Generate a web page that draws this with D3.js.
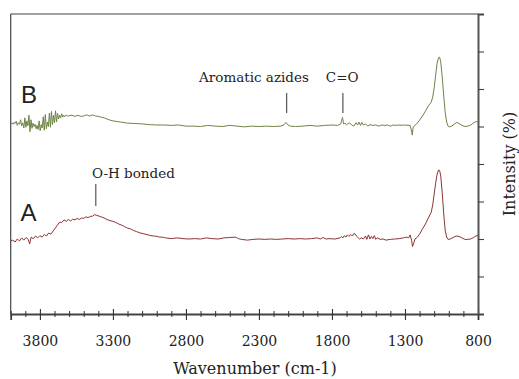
<!DOCTYPE html>
<html>
<head>
<meta charset="utf-8">
<script src="https://cdn.jsdelivr.net/npm/d3@7"></script>
<style>
  body { margin: 0; background: #fff; }
  svg text { font-family: "DejaVu Serif", serif; fill: #222; }
</style>
</head>
<body>
<figure id="spectra" style="margin:0"></figure>
<script>
// spectrum B (upper trace), wavenumber in cm-1 and intensity
const waveB = [4000,3992,3985,3978,3970,3962,3955,3948,3940,3932,3925,3918,3910,3903,3896,3889,3882,3875,3868,3861,
  3854,3847,3840,3833,3826,3819,3812,3805,3798,3791,3784,3777,3770,3763,3756,3749,3742,3735,3728,3721,3714,3707,
  3700,3693,3686,3679,3672,3665,3658,3651,3644,3637,3630,3620,3610,3600,
  3580,3560,3540,3520,3500,3480,3460,3440,3420,3400,3380,3360,3340,3320,3300,3250,3200,3150,3100,3050,
  3000,2950,2900,2850,2800,2750,2700,2650,2600,2550,2500,2450,2400,2350,2300,2250,2200,2150,2130,2115,2100,2085,
  2050,2000,1950,1900,1850,1800,1760,1740,1728,1720,1710,1700,1680,1665,1650,1635,1625,1615,1605,1595,1585,1570,
  1555,1540,1520,1500,1480,1460,1440,1420,1400,1380,1360,1340,1320,1310,1265,1255,1250,1245,1238,1220,1200,1180,
  1160,1140,1120,1110,1100,1090,1080,1070,1063,1055,1045,1035,1025,1015,1005,995,980,960,945,930,910,890,870,850,830,815,800];
const intB = [50.7,51.0,50.6,51.1,50.8,51.4,50.3,51.0,50.6,51.8,50.2,51.0,49.6,52.3,49.8,51.5,50.2,53.0,48.6,51.8,
  49.5,50.9,50.0,50.6,49.4,50.3,49.2,51.5,48.9,50.5,49.6,52.6,49.0,53.2,49.4,51.2,50.0,53.6,49.8,54.0,50.5,53.0,
  51.0,54.2,51.2,53.5,52.0,53.0,52.3,53.4,52.5,53.0,52.6,53.1,52.7,52.9,
  53.0,52.7,53.0,52.7,52.8,53.1,52.8,53.1,52.8,52.7,52.5,52.3,52.0,51.7,51.5,51.2,50.9,50.8,50.7,50.5,
  50.4,50.4,50.3,50.4,50.1,50.1,50.0,50.3,50.1,50.0,50.3,50.1,49.9,50.1,50.0,50.1,50.0,50.1,50.4,51.1,50.4,50.1,
  50.0,50.1,50.3,50.1,50.3,50.4,50.3,50.7,52.4,50.7,50.8,50.5,51.0,50.4,50.1,51.0,50.4,51.2,50.3,51.1,50.4,50.7,
  50.1,50.5,50.3,50.4,50.1,50.4,50.3,50.4,50.1,50.4,50.3,50.4,50.3,50.4,50.3,48.8,47.7,49.6,50.1,50.7,51.7,52.8,
  54.1,55.5,56.5,57.9,60.3,63.7,66.9,68.4,68.5,67.2,63.2,58.4,53.9,51.2,50.1,49.9,50.1,50.7,51.1,50.8,50.3,50.0,50.1,50.4,51.0,51.3,51.2];

// spectrum A (lower trace)
const waveA = [4000,3985,3970,3955,3940,3925,3910,3895,3880,3870,3860,3845,3830,3815,3800,3785,3770,3755,3740,3725,
  3710,3695,3680,3665,3650,3635,3620,3605,3590,3575,3560,3545,3530,3515,3500,3485,3470,3455,3440,3425,3410,3395,
  3380,3360,3340,3320,3300,3280,3260,3240,3220,3200,3180,3160,3140,3120,3100,3080,3060,3040,3020,3000,2980,2960,
  2940,2900,2860,2820,2780,2740,2700,2660,2620,2580,2540,2500,2460,2440,2420,2380,2340,2300,2260,2220,2180,2140,
  2100,2060,2020,1980,1940,1900,1880,1860,1840,1820,1780,1745,1735,1725,1715,1705,1695,1685,1670,1660,1650,1640,
  1630,1620,1610,1600,1585,1570,1562,1550,1540,1530,1520,1510,1500,1490,1470,1450,1430,1400,1370,1340,1310,1290,
  1275,1265,1255,1248,1240,1232,1215,1200,1180,1160,1140,1120,1110,1100,1090,1080,1070,1063,1055,1045,1035,1025,
  1015,1005,990,970,950,930,910,890,870,850,830,815,800];
const intA = [19.5,19.7,19.2,20.0,19.5,20.3,19.7,20.4,19.9,18.7,20.5,20.1,20.8,20.3,20.9,20.5,21.2,20.8,21.6,21.3,
  22.1,22.9,23.7,24.5,24.4,25.1,24.7,25.2,24.8,25.3,25.1,25.5,25.2,25.6,25.5,25.9,25.7,26.0,26.1,26.5,26.3,26.1,
  25.9,25.6,25.2,24.9,24.7,24.4,24.0,23.7,23.3,22.9,22.7,22.3,22.0,21.7,21.5,21.3,21.1,20.9,20.8,20.7,20.5,20.5,
  20.3,20.1,20.3,20.1,20.0,20.1,20.0,20.3,20.1,20.0,20.3,20.4,20.5,20.1,19.9,19.7,19.9,20.0,19.9,20.0,19.9,20.0,
  20.1,20.0,20.1,20.0,20.1,20.3,20.0,20.4,20.0,20.1,20.0,20.3,20.7,20.3,20.9,20.5,21.1,20.7,21.2,20.8,21.5,21.3,
  20.7,20.3,20.0,20.3,20.0,20.8,19.9,21.1,20.0,20.7,20.1,20.9,19.9,20.3,19.9,20.0,19.7,19.9,20.0,20.1,20.3,20.5,
  20.3,21.1,19.7,18.0,18.9,20.0,20.5,21.3,22.7,24.0,25.6,27.2,29.1,32.0,34.9,37.3,38.4,38.3,36.8,32.3,26.9,22.4,
  20.5,19.9,20.0,20.4,20.8,20.7,20.3,19.9,19.9,20.0,20.4,20.8,20.9];

const majorTicks = [3800, 3300, 2800, 2300, 1800, 1300, 800];
const minorTicks = d3.range(4000, 799, -100).filter(d => !majorTicks.includes(d));
const yTicks = d3.range(0, 81, 10);

const annotations = [
  { label: "Aromatic azides", wave: 2110, textWave: 2334, textY: 81.7, y1: 93, y2: 113 },
  { label: "C=O", wave: 1725, textWave: 1730, textY: 81.7, y1: 93, y2: 113 },
  { label: "O-H bonded", wave: 3417, textWave: 3160, textY: 178, y1: 184, y2: 206 }
];

const W = 519, H = 379;
const m = { left: 10.7, right: 478, top: 14, bottom: 314 };
const serif = "'DejaVu Serif', serif";

const svg = d3.select("#spectra").append("svg")
  .attr("width", W).attr("height", H);

const x = d3.scaleLinear().domain([4000, 800]).range([m.left, m.right]);
const y = d3.scaleLinear().domain([0, 80]).range([m.bottom, m.top]);

// frame: thin top/left, heavier right/bottom
svg.append("line").attr("x1", m.left).attr("x2", m.right).attr("y1", m.top).attr("y2", m.top)
  .attr("stroke", "#444").attr("stroke-width", 1.2);
svg.append("line").attr("x1", m.left).attr("x2", m.left).attr("y1", m.top).attr("y2", m.bottom)
  .attr("stroke", "#444").attr("stroke-width", 1.2);

// bottom axis, major + minor ticks crossing the line
const gx = svg.append("g").attr("transform", `translate(0,${m.bottom})`)
  .call(d3.axisBottom(x).tickValues(majorTicks).tickSize(6).tickFormat(d3.format("d")));
gx.select(".domain").attr("stroke", "#444").attr("stroke-width", 1.8);
gx.selectAll(".tick line").attr("y1", -5).attr("stroke", "#333").attr("stroke-width", 1.1);
gx.selectAll(".tick text").attr("y", 32).attr("dy", null)
  .style("font-size", "14px").style("font-family", serif).attr("fill", "#222");

const gxm = svg.append("g").attr("transform", `translate(0,${m.bottom})`)
  .call(d3.axisBottom(x).tickValues(minorTicks).tickSize(3).tickFormat(""));
gxm.select(".domain").remove();
gxm.selectAll(".tick line").attr("y1", -3).attr("stroke", "#333").attr("stroke-width", 1);

// right axis, no labels
const gy = svg.append("g").attr("transform", `translate(${m.right},0)`)
  .call(d3.axisRight(y).tickValues(yTicks).tickSize(6).tickFormat(""));
gy.select(".domain").attr("stroke", "#555").attr("stroke-width", 2);
gy.selectAll(".tick line").attr("stroke", "#444").attr("stroke-width", 1.1);

const line = (waves, vals) => d3.line()
  .x((d, i) => x(waves[i]))
  .y(d => y(d))(vals);

svg.append("path").attr("d", line(waveB, intB))
  .attr("fill", "none").attr("stroke", "#6e8445").attr("stroke-width", 1)
  .attr("stroke-linejoin", "round");
svg.append("path").attr("d", line(waveA, intA))
  .attr("fill", "none").attr("stroke", "#8b3535").attr("stroke-width", 1)
  .attr("stroke-linejoin", "round");

// annotations
annotations.forEach(a => {
  svg.append("line").attr("x1", x(a.wave)).attr("x2", x(a.wave))
    .attr("y1", a.y1).attr("y2", a.y2).attr("stroke", "#333").attr("stroke-width", 1);
  svg.append("text").attr("x", x(a.textWave)).attr("y", a.textY)
    .attr("text-anchor", "middle").style("font-size", "13.5px").style("font-family", serif).text(a.label);
});

// series labels
svg.append("text").attr("x", 21).attr("y", 103)
  .style("font-family", "'Liberation Sans', Arial, sans-serif").style("font-size", "24px")
  .attr("fill", "#000").text("B");
svg.append("text").attr("x", 20.5).attr("y", 220.5)
  .style("font-family", "'Liberation Sans', Arial, sans-serif").style("font-size", "24px")
  .attr("fill", "#000").text("A");

// axis titles
svg.append("text").attr("x", 255).attr("y", 374)
  .attr("text-anchor", "middle").style("font-size", "16px").style("font-family", serif)
  .text("Wavenumber (cm-1)");
svg.append("text").attr("transform", `translate(515,${(m.top + m.bottom) / 2}) rotate(-90)`)
  .attr("text-anchor", "middle").style("font-size", "16px").style("font-family", serif)
  .text("Intensity (%)");
</script>
</body>
</html>
